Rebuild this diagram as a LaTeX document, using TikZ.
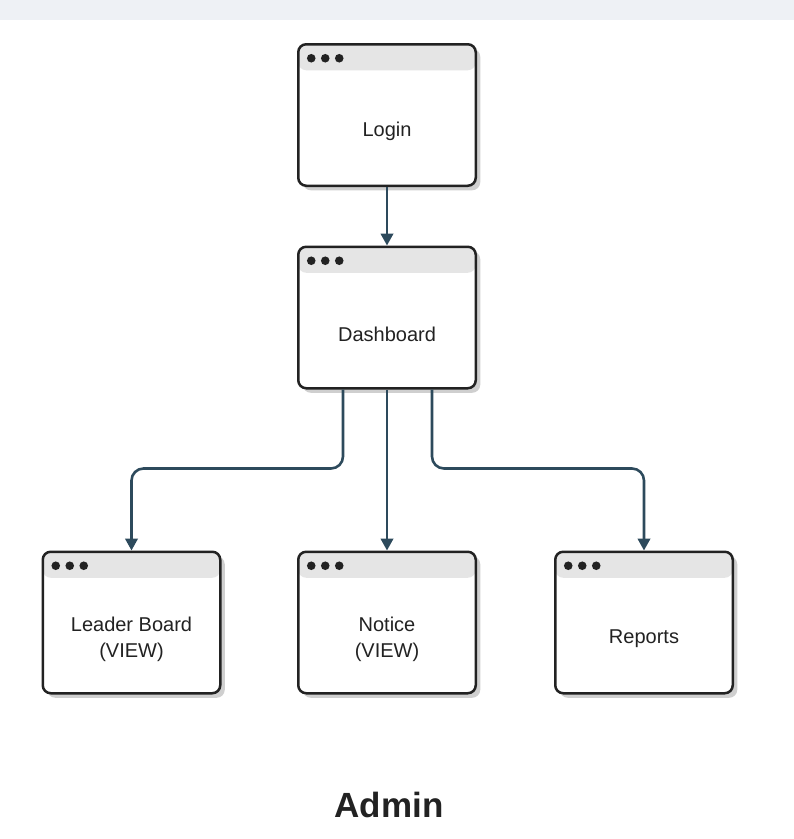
\documentclass[tikz,border=0pt]{standalone}
\usepackage{fontspec}
\setmainfont{Liberation Sans}
\usepackage{xcolor}
\usepackage{tikz}
\usetikzlibrary{arrows.meta}
\usetikzlibrary{shadows}

\definecolor{topband}{HTML}{EEF1F5}
\definecolor{boxline}{HTML}{222222}
\definecolor{headgray}{HTML}{E5E5E5}
\definecolor{shadowgray}{HTML}{CFCFCF}
\definecolor{connblue}{HTML}{2D4A5C}

\begin{document}
\begin{tikzpicture}[x=1pt,y=-1pt]
	\useasboundingbox (0,0) rectangle (794,839);
	\fill[topband] (0,0) rectangle (794,20);
	\tikzstyle{boxtext}=[yshift=-16.5pt,align=center,text=boxline,font=\fontsize{20}{26}\selectfont]
	\tikzstyle{winbox}=[draw=boxline,line width=2.5pt,rounded corners=8pt,fill=white,
		minimum width=177.5pt,minimum height=141.5pt,
		drop shadow={shadow xshift=4.5pt,shadow yshift=-4.5pt,fill=shadowgray,opacity=1},
		path picture={
			\fill[headgray] (path picture bounding box.north west) rectangle ([yshift=-26pt]path picture bounding box.north east);
			\fill[boxline] ([xshift=13pt,yshift=-14pt]path picture bounding box.north west) circle (4.3pt)
				([xshift=27pt,yshift=-14pt]path picture bounding box.north west) circle (4.3pt)
				([xshift=41pt,yshift=-14pt]path picture bounding box.north west) circle (4.3pt);
		}]
	\tikzstyle{conn}=[draw=connblue,line width=2.6pt,rounded corners=12pt,-{Triangle[length=12pt,width=12.5pt]}]
	% screens
	\node[winbox,label={[boxtext]center:Login}] (login) at (387,115) {};
	\node[winbox,label={[boxtext]center:Dashboard}] (dash) at (387,317.5) {};
	\node[winbox,label={[boxtext]center:Leader Board\\(VIEW)}] (leader) at (131.5,622.5) {};
	\node[winbox,label={[boxtext]center:Notice\\(VIEW)}] (notice) at (387,622.5) {};
	\node[winbox,label={[boxtext]center:Reports}] (reports) at (644,622.5) {};
	% links
	\draw[conn] (login.south) -- (dash.north);
	\draw[conn] ([xshift=-44pt]dash.south) -- ++(0,79) -| (leader.north);
	\draw[conn] (dash.south) -- (notice.north);
	\draw[conn] ([xshift=45pt]dash.south) -- ++(0,79) -| (reports.north);
	\node[anchor=base,text=boxline,font=\fontsize{35}{40}\selectfont\bfseries] (title) at (389,817) {Admin};
\end{tikzpicture}
\end{document}
